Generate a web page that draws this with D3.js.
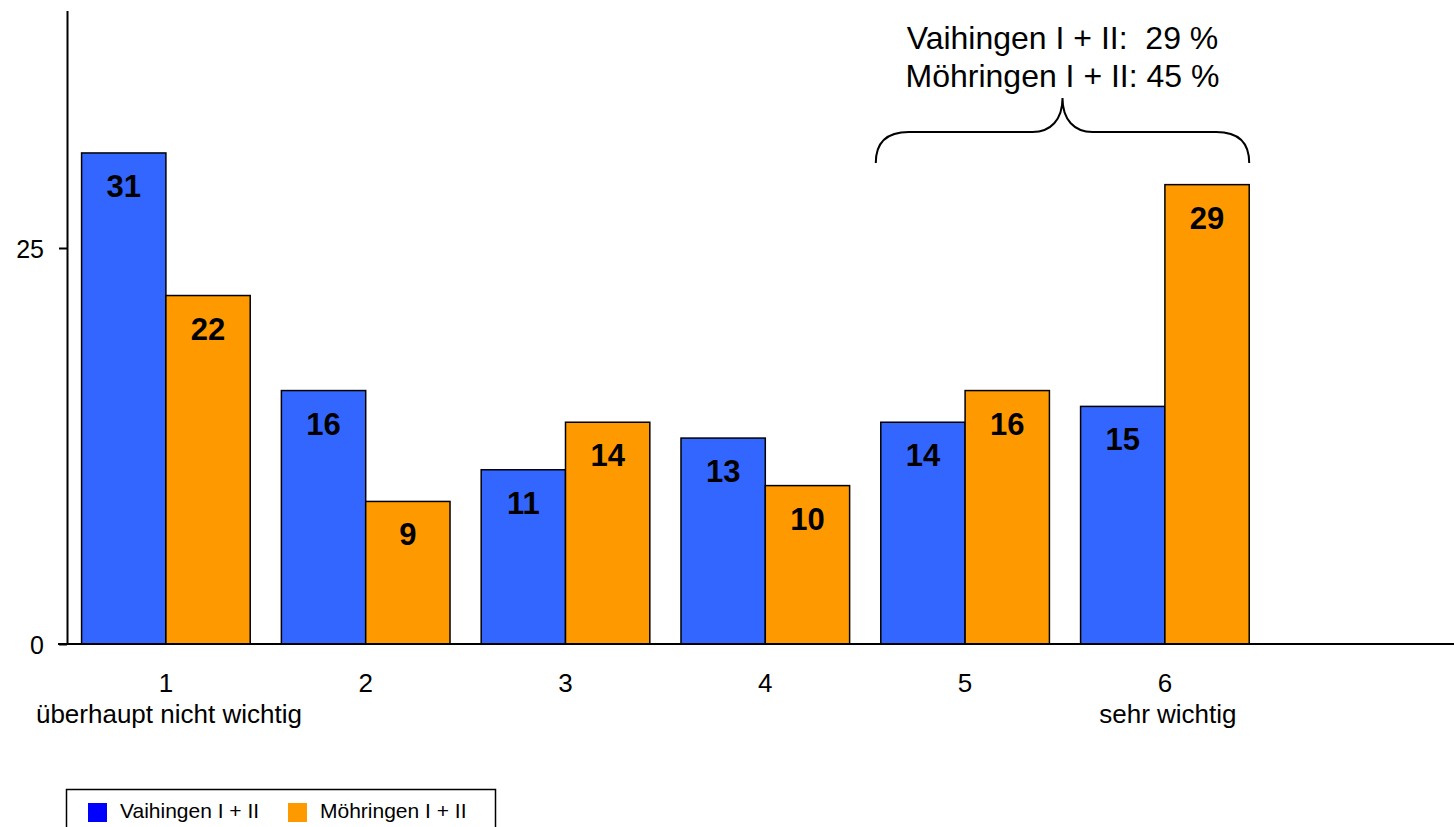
<!DOCTYPE html>
<html>
<head>
<meta charset="utf-8">
<script src="https://cdn.jsdelivr.net/npm/d3@7"></script>
<style>
  body { margin: 0; background: #fff; }
  text { font-family: "Liberation Sans", Arial, sans-serif; }
</style>
</head>
<body>
<div class="chart"></div>
<script>
var categories = ["1", "2", "3", "4", "5", "6"];
var subLabels = ["überhaupt nicht wichtig", "", "", "", "", "sehr wichtig"];
var seriesNames = ["Vaihingen I + II", "Möhringen I + II"];
var vaihingen = [31, 16, 11, 13, 14, 15];
var moehringen = [22, 9, 14, 10, 16, 29];
var yTicks = [0, 25];
var noteLines = ["Vaihingen I + II:  29 %", "Möhringen I + II: 45 %"];

var svgWidth = 1454;
var svgHeight = 827;

var barColors = ["#3366ff", "#ff9900"];
var legendColors = ["#0000ff", "#ff9900"];

var svg = d3.select(".chart")
  .append("svg")
  .attr("width", svgWidth)
  .attr("height", svgHeight);

// scales
var x = d3.scaleBand()
  .domain(categories)
  .range([66, 1264.8])
  .paddingInner(0.156)
  .paddingOuter(0.078);

var x1 = d3.scaleBand()
  .domain(seriesNames)
  .range([0, x.bandwidth()]);

var y = d3.scaleLinear()
  .domain([0, 40])
  .range([644, 10.4]);

var data = categories.map(function(c, i) {
  return { cat: c, values: [vaihingen[i], moehringen[i]] };
});

// bars
var groups = svg.append("g").selectAll("g")
  .data(data)
  .enter()
  .append("g")
  .attr("transform", function(d) { return "translate(" + x(d.cat) + ",0)"; });

groups.selectAll("rect")
  .data(function(d) { return d.values.map(function(v, j) { return { name: seriesNames[j], v: v, j: j }; }); })
  .enter()
  .append("rect")
  .attr("x", function(d) { return x1(d.name); })
  .attr("y", function(d) { return y(d.v); })
  .attr("width", x1.bandwidth())
  .attr("height", function(d) { return y(0) - y(d.v); })
  .style("fill", function(d) { return barColors[d.j]; })
  .style("stroke", "#000")
  .style("stroke-width", 1.5);

groups.selectAll("text.val")
  .data(function(d) { return d.values.map(function(v, j) { return { name: seriesNames[j], v: v }; }); })
  .enter()
  .append("text")
  .attr("class", "val")
  .attr("x", function(d) { return x1(d.name) + x1.bandwidth() / 2; })
  .attr("y", function(d) { return y(d.v) + 44; })
  .attr("text-anchor", "middle")
  .style("font-size", "31px")
  .style("font-weight", "bold")
  .text(function(d) { return d.v; });

// y axis
var yAxis = svg.append("g")
  .attr("transform", "translate(67,0)")
  .call(d3.axisLeft(y).tickValues(yTicks).tickSize(8).tickSizeOuter(0).tickPadding(15));
yAxis.select(".domain").style("stroke-width", 2);
yAxis.selectAll(".tick line").style("stroke-width", 2);
yAxis.selectAll(".tick text")
  .style("font-size", "25px")
  .attr("dy", "0.36em");

// x axis
var xAxis = svg.append("g")
  .attr("transform", "translate(0," + y(0) + ")")
  .call(d3.axisBottom(x).tickSize(0).tickPadding(0));
xAxis.select(".domain").remove();
xAxis.selectAll(".tick text")
  .style("font-size", "26px")
  .attr("dy", 0)
  .attr("y", 48);

svg.append("line")
  .attr("x1", 58)
  .attr("x2", svgWidth)
  .attr("y1", y(0))
  .attr("y2", y(0))
  .style("stroke", "#000")
  .style("stroke-width", 2);

svg.append("g").selectAll("text")
  .data(subLabels)
  .enter()
  .append("text")
  .attr("x", function(d, i) { return x(categories[i]) + x.bandwidth() / 2 + 3; })
  .attr("y", y(0) + 79)
  .attr("text-anchor", "middle")
  .style("font-size", "26px")
  .text(function(d) { return d; });

// brace over categories 5 and 6
var bl = x("5") - 5;
var br = x("6") + x.bandwidth();
var bm = (bl + br) / 2;
var bTop = 98, bMid = 132, bBot = 163;
var brace = d3.path();
brace.moveTo(bl, bBot);
brace.bezierCurveTo(bl, bMid + 10, bl + 12, bMid, bl + 33, bMid);
brace.lineTo(bm - 30, bMid);
brace.bezierCurveTo(bm - 12, bMid, bm, bMid - 12, bm, bTop);
brace.bezierCurveTo(bm, bMid - 12, bm + 12, bMid, bm + 30, bMid);
brace.lineTo(br - 33, bMid);
brace.bezierCurveTo(br - 12, bMid, br, bMid + 10, br, bBot);
svg.append("path")
  .attr("d", brace.toString())
  .style("fill", "none")
  .style("stroke", "#000")
  .style("stroke-width", 2);

svg.append("g").selectAll("text")
  .data(noteLines)
  .enter()
  .append("text")
  .attr("x", bm)
  .attr("y", function(d, i) { return 49 + i * 38; })
  .attr("text-anchor", "middle")
  .style("font-size", "32px")
  .style("white-space", "pre")
  .text(function(d) { return d; });

// legend
var legend = svg.append("g");
legend.append("rect")
  .attr("x", 66.5)
  .attr("y", 789.5)
  .attr("width", 429)
  .attr("height", 60)
  .style("fill", "none")
  .style("stroke", "#000")
  .style("stroke-width", 1.5);

var legendX = [88, 288];
seriesNames.forEach(function(name, i) {
  legend.append("rect")
    .attr("x", legendX[i])
    .attr("y", 803)
    .attr("width", 19)
    .attr("height", 19)
    .style("fill", legendColors[i]);
  legend.append("text")
    .attr("x", legendX[i] + 32)
    .attr("y", 818)
    .style("font-size", "21px")
    .text(name);
});
</script>
</body>
</html>
